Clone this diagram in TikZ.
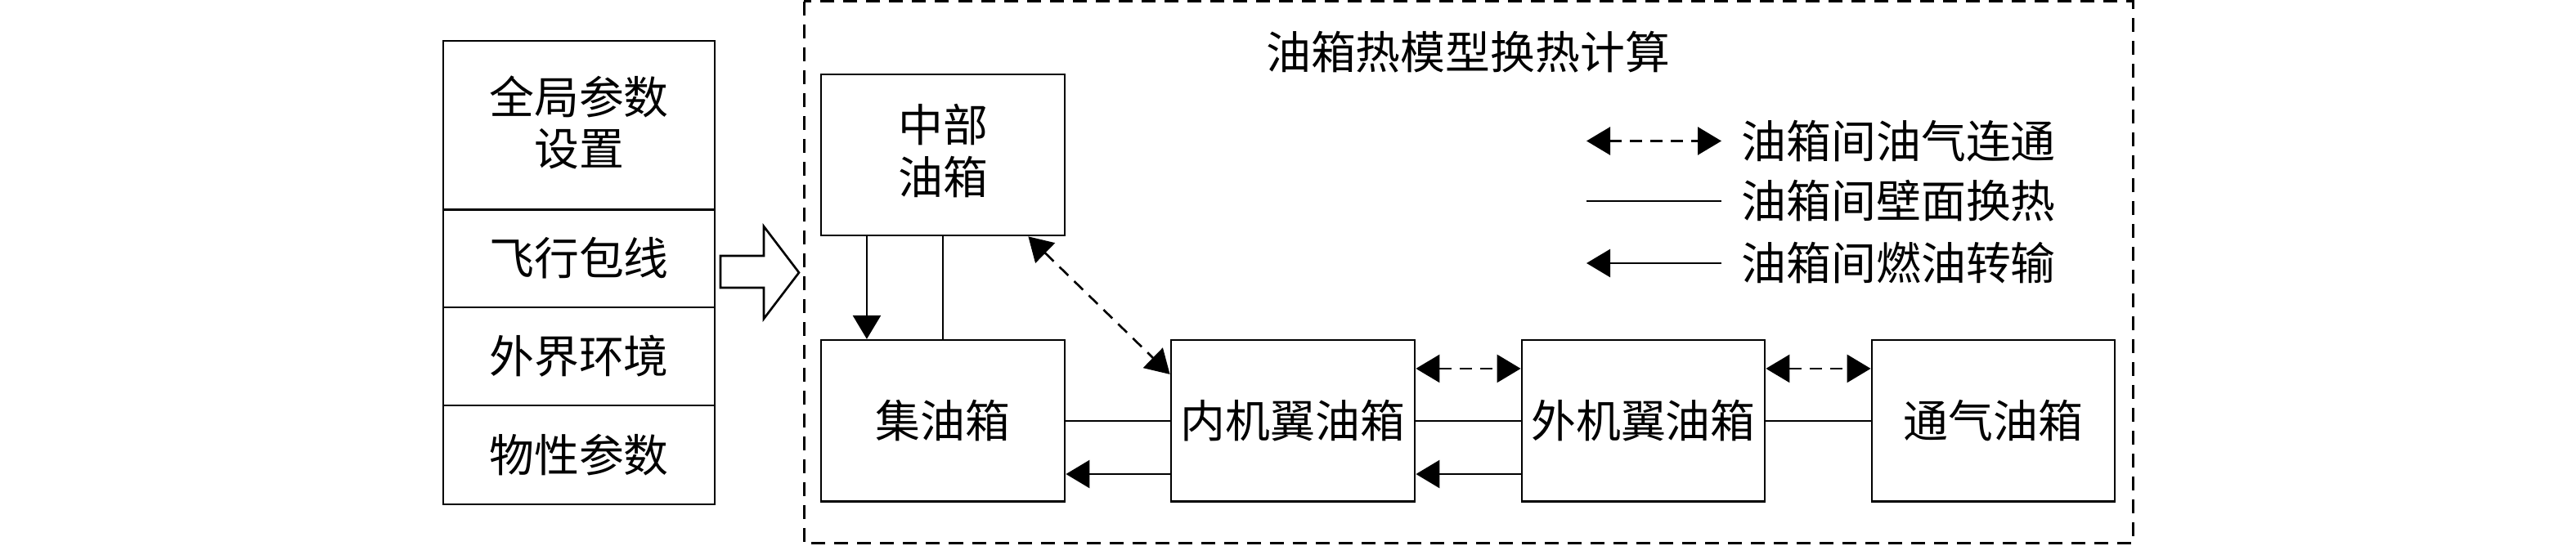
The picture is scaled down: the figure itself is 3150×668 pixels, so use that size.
\documentclass[tikz,border=0pt]{standalone}
\usepackage{fontspec}
\setmainfont{Noto Sans CJK SC}
\usetikzlibrary{arrows.meta,calc}
\begin{document}
\begin{tikzpicture}[x=0.01cm,y=-0.01cm,
  box/.style={draw,line width=0.75pt,inner sep=0pt},
  lbl/.style={font=\fontsize{15.6pt}{18.1pt}\selectfont,inner sep=0pt,align=center},
  flow/.style={line width=0.75pt,-{Triangle[length=0.29cm,width=0.34cm]}},
  vent/.style={line width=0.75pt,dash pattern=on 0.15cm off 0.1cm,{Triangle[length=0.29cm,width=0.34cm]}-{Triangle[length=0.29cm,width=0.34cm]}},
  wall/.style={line width=0.75pt}]
\useasboundingbox (0,0) rectangle (3150,668);
% outer dashed frame
\draw[line width=0.85pt,dash pattern=on 0.17cm off 0.11cm] (983,2) rectangle (2608,665);
\node[lbl] (title) at (1795,64) {油箱热模型换热计算};
% left input column
\draw[box] (542,50) rectangle (874,617);
\draw[wall] (542,256.5) -- (874,256.5);
\draw[wall] (542,376) -- (874,376);
\draw[wall] (542,496) -- (874,496);
\node[lbl] (p1) at (708,150) {全局参数\\设置};
\node[lbl] (p2) at (708,316) {飞行包线};
\node[lbl] (p3) at (708,436) {外界环境};
\node[lbl] (p4) at (708,556.5) {物性参数};
% fat arrow
\draw[line width=0.75pt] (881,313) -- (934,313) -- (934,277) -- (977,333.5) -- (934,390) -- (934,352) -- (881,352) -- cycle;
% tanks
\node[box,minimum width=2.98cm,minimum height=1.97cm] (zb) at (1153,189.5) {};
\node[lbl] at ([yshift=0.05cm]zb.center) {中部\\油箱};
\node[box,minimum width=2.98cm,minimum height=1.975cm] (jy) at (1153,515) {};
\node[lbl] at (jy.center) {集油箱};
\node[box,minimum width=2.98cm,minimum height=1.975cm] (nj) at (1581,515) {};
\node[lbl] at (nj.center) {内机翼油箱};
\node[box,minimum width=2.97cm,minimum height=1.975cm] (wj) at (2009.5,515) {};
\node[lbl] at (wj.center) {外机翼油箱};
\node[box,minimum width=2.97cm,minimum height=1.975cm] (tq) at (2437.5,515) {};
\node[lbl] at (tq.center) {通气油箱};
% connections
\draw[flow] ([xshift=-0.93cm]zb.south) -- ([xshift=-0.93cm]jy.north);
\draw[wall] (zb.south) -- (jy.north);
\draw[vent] ([xshift=-0.46cm]zb.south east) -- ([yshift=0.57cm]nj.west);
\draw[wall] (nj.west) -- (jy.east);
\draw[flow] ([yshift=-0.65cm]nj.west) -- ([yshift=-0.65cm]jy.east);
\draw[vent] ([yshift=0.64cm]nj.east) -- ([yshift=0.64cm]wj.west);
\draw[wall] (wj.west) -- (nj.east);
\draw[flow] ([yshift=-0.65cm]wj.west) -- ([yshift=-0.65cm]nj.east);
\draw[vent] ([yshift=0.64cm]wj.east) -- ([yshift=0.64cm]tq.west);
\draw[wall] (tq.west) -- (wj.east);
% legend
\coordinate (l1a) at (1940,172.5); \coordinate (l1b) at (2105,172.5);
\coordinate (l2a) at (1940,246); \coordinate (l2b) at (2105,246);
\coordinate (l3a) at (1940,322); \coordinate (l3b) at (2105,322);
\draw[vent] (l1a) -- (l1b);
\draw[wall] (l2a) -- (l2b);
\draw[flow] (l3b) -- (l3a);
\node[lbl,anchor=west] (t1) at (2129,172.5) {油箱间油气连通};
\node[lbl,anchor=west] (t2) at (2129,246) {油箱间壁面换热};
\node[lbl,anchor=west] (t3) at (2129,322) {油箱间燃油转输};
\end{tikzpicture}
\end{document}
